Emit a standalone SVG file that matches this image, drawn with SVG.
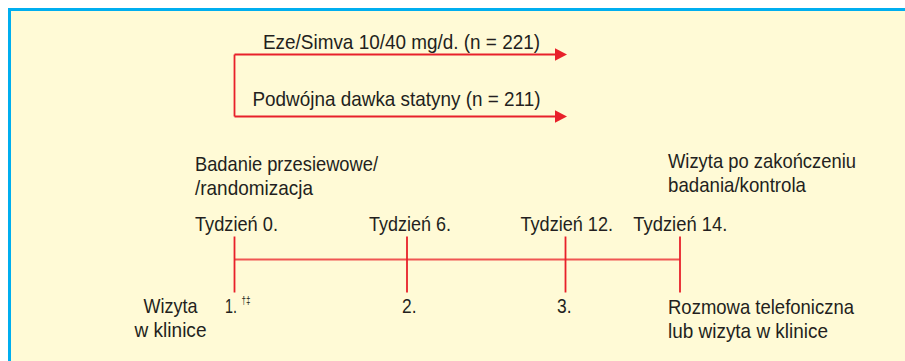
<svg xmlns="http://www.w3.org/2000/svg" width="905" height="361" viewBox="0 0 905 361">
  <defs>
    <style>
      text { font-family: "Liberation Sans", Arial, sans-serif; font-size: 21px; fill: #231f20; }
      .sup { font-size: 11px; }
      .red { stroke: #e8202a; stroke-width: 1.8; fill: none; }
      .axis { stroke: #f05552; stroke-width: 2.2; fill: none; }
    </style>
    <marker id="arrow" viewBox="0 0 12 12.5" refX="0" refY="6.25" markerWidth="12" markerHeight="12.5" markerUnits="userSpaceOnUse" orient="auto">
      <path d="M0,0 L12,6.25 L0,12.5 Z" fill="#e8202a"/>
    </marker>
  </defs>

  <g id="frame">
    <rect x="0" y="0" width="905" height="361" fill="#ffffff"/>
    <rect x="11" y="11" width="894" height="350" fill="#fffad6"/>
    <path d="M9.5,361 V9.5 H905" stroke="#00aeef" stroke-width="3" fill="none"/>
  </g>

  <g id="connectors">
    <path class="red" d="M234.5,54.5 H555" marker-end="url(#arrow)"/>
    <path class="red" d="M234.5,116.5 H555" marker-end="url(#arrow)"/>
    <path class="red" d="M234.5,54.5 V116.5"/>
    <path class="axis" d="M234.5,259.5 H680"/>
    <path class="red" d="M234.5,236.5 V292.5"/>
    <path class="red" d="M407,236.5 V292.5"/>
    <path class="red" d="M565.5,236.5 V292.5"/>
    <path class="red" d="M680,236.5 V292.5"/>
  </g>

  <g id="arm-eze">
    <text x="263" y="48.5" textLength="277" lengthAdjust="spacingAndGlyphs">Eze/Simva 10/40 mg/d. (n = 221)</text>
  </g>
  <g id="arm-statin">
    <text x="252.5" y="105.5" textLength="288" lengthAdjust="spacingAndGlyphs">Podwójna dawka statyny (n = 211)</text>
  </g>

  <g id="screening">
    <text x="195" y="170.5" textLength="183" lengthAdjust="spacingAndGlyphs">Badanie przesiewowe/</text>
    <text x="195" y="195" textLength="118" lengthAdjust="spacingAndGlyphs">/randomizacja</text>
  </g>
  <g id="end-visit">
    <text x="668" y="167.5" textLength="188" lengthAdjust="spacingAndGlyphs">Wizyta po zakończeniu</text>
    <text x="668" y="192.3" textLength="138" lengthAdjust="spacingAndGlyphs">badania/kontrola</text>
  </g>

  <g id="week0"><text x="195" y="230.7" textLength="83" lengthAdjust="spacingAndGlyphs">Tydzień 0.</text></g>
  <g id="week6"><text x="369" y="230.7" textLength="82" lengthAdjust="spacingAndGlyphs">Tydzień 6.</text></g>
  <g id="week12"><text x="520.5" y="230.7" textLength="92.5" lengthAdjust="spacingAndGlyphs">Tydzień 12.</text></g>
  <g id="week14"><text x="633.3" y="230.7" textLength="94" lengthAdjust="spacingAndGlyphs">Tydzień 14.</text></g>

  <g id="visit-label">
    <text x="143.5" y="313" textLength="54" lengthAdjust="spacingAndGlyphs">Wizyta</text>
    <text x="134.5" y="337.3" textLength="72" lengthAdjust="spacingAndGlyphs">w klinice</text>
  </g>
  <g id="visit1">
    <text x="225" y="313" textLength="12" lengthAdjust="spacingAndGlyphs">1.</text>
    <text class="sup" x="241.5" y="304" textLength="9" lengthAdjust="spacingAndGlyphs">†‡</text>
  </g>
  <g id="visit2"><text x="402" y="313" textLength="14.5" lengthAdjust="spacingAndGlyphs">2.</text></g>
  <g id="visit3"><text x="557" y="313" textLength="14.5" lengthAdjust="spacingAndGlyphs">3.</text></g>
  <g id="visit4">
    <text x="668" y="314" textLength="186" lengthAdjust="spacingAndGlyphs">Rozmowa telefoniczna</text>
    <text x="668" y="338.3" textLength="160" lengthAdjust="spacingAndGlyphs">lub wizyta w klinice</text>
  </g>
</svg>
